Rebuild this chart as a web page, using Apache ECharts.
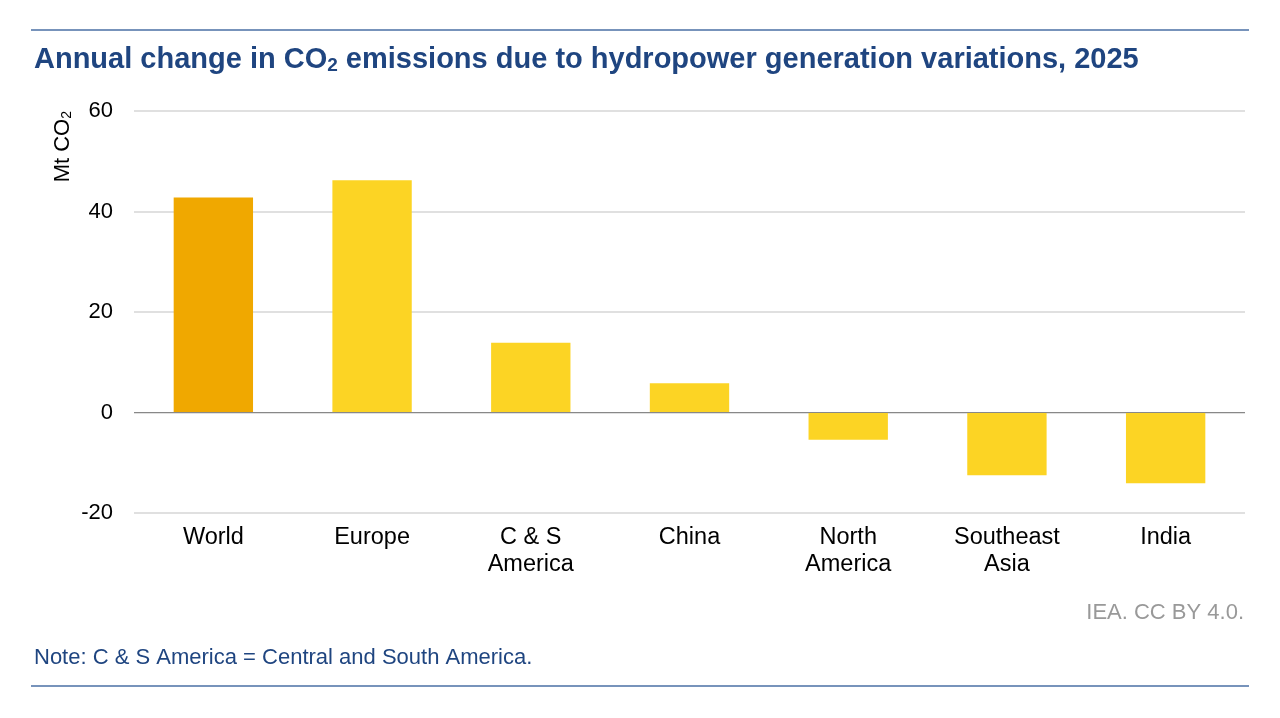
<!DOCTYPE html>
<html><head><meta charset="utf-8">
<script src="https://cdn.jsdelivr.net/npm/echarts@6/dist/echarts.min.js"></script>
<style>html,body{margin:0;padding:0;background:#fff}#c{width:1280px;height:718px}</style>
</head><body><div id="c"></div>
<script>
const categories = ['World', 'Europe', 'C & S\nAmerica', 'China', 'North\nAmerica', 'Southeast\nAsia', 'India'];
const values = [42.8, 46.2, 13.9, 5.8, -5.4, -12.5, -14.1];
const yTicks = { min: -20, max: 60, interval: 20 };
const colorWorld = '#f0a800';
const colorOther = '#fcd424';
const navy = '#1f4580';
const font = '"Liberation Sans", Arial, sans-serif';

const chart = echarts.init(document.getElementById('c'));
chart.setOption({
  animation: false,
  textStyle: { fontFamily: font },
  title: {
    text: '{a|Annual change in CO}{s|2}{a| emissions due to hydropower generation variations, 2025}',
    left: 29, top: 40,
    textStyle: {
      rich: {
        a: { fontFamily: font, fontSize: 29, fontWeight: 'bold', color: navy },
        s: { fontFamily: font, fontSize: 19, fontWeight: 'bold', color: navy, verticalAlign: 'bottom', padding: [11, 0, 0, 0] }
      }
    }
  },
  grid: { left: 134, right: 35, top: 111, bottom: 205, containLabel: false },
  xAxis: {
    type: 'category',
    data: categories,
    axisLine: { show: false },
    axisTick: { show: false },
    axisLabel: { fontSize: 23.5, color: '#000', lineHeight: 27, margin: 11, interval: 0, fontFamily: font }
  },
  yAxis: {
    type: 'value',
    min: yTicks.min, max: yTicks.max, interval: yTicks.interval,
    axisLine: { show: false },
    axisTick: { show: false },
    axisLabel: { fontSize: 22, color: '#000', margin: 21, fontFamily: font },
    splitLine: { lineStyle: { color: '#e0e0e0', width: 2 } },
    name: '{a|Mt CO}{s|2}',
    nameLocation: 'end',
    nameRotate: 90,
    nameGap: 0,
    nameTextStyle: {
      align: 'right', verticalAlign: 'bottom', padding: [0, 0, 60, -74],
      rich: {
        a: { fontFamily: font, fontSize: 22, color: '#000' },
        s: { fontFamily: font, fontSize: 14, color: '#000', verticalAlign: 'bottom', padding: [8, 0, 0, 0] }
      }
    }
  },
  series: [{
    type: 'bar',
    data: values.map((v, i) => ({ value: v, itemStyle: { color: i === 0 ? colorWorld : colorOther } })),
    barWidth: '50%',
    markLine: {
      silent: true, symbol: 'none', label: { show: false },
      lineStyle: { color: '#888', width: 1.2, type: 'solid' },
      data: [{ yAxis: 0 }]
    }
  }],
  graphic: [
    { type: 'line', shape: { x1: 31, y1: 30, x2: 1249, y2: 30 }, style: { stroke: '#4a6fa5', lineWidth: 1.5 } },
    { type: 'line', shape: { x1: 31, y1: 686, x2: 1249, y2: 686 }, style: { stroke: '#4a6fa5', lineWidth: 1.5 } },
    { type: 'text', right: 36, top: 602, style: { text: 'IEA. CC BY 4.0.', fontSize: 22, fill: '#999', fontFamily: font } },
    { type: 'text', left: 34, top: 647, style: { text: 'Note: C & S America = Central and South America.', fontSize: 22, fill: navy, fontFamily: font } }
  ]
});
</script></body></html>
